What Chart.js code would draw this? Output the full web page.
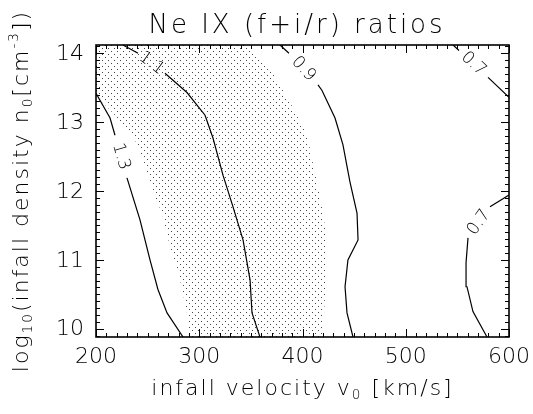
<!DOCTYPE html>
<html>
<head>
<meta charset="utf-8">
<script src="https://cdn.jsdelivr.net/npm/chart.js@4.4.1/dist/chart.umd.min.js"></script>
<style>
  html, body { margin: 0; padding: 0; background: #fff; }
  canvas { display: block; }
</style>
</head>
<body>
<canvas id="chart" width="533" height="414"></canvas>
<script>
const titleText = 'Ne IX (f+i/r) ratios';
const xTicks = [200, 300, 400, 500, 600];
const yTicks = [10, 11, 12, 13, 14];
const xRange = [200, 600];
const yRange = [9.88, 14.12];
const xMinorStep = 10;
const yMinorStep = 0.1;

// contour lines (velocity, log density); null = gap where the level label sits
const levels = ['1.3', '1.1', '0.9', '0.7', '0.7'];
const c13v = [200, 213.6, 218.4, null, 230, 242.6, 252.3, 260, 268.8, 284.3];
const c13n = [13.42, 13.06, 12.81, null, 12.19, 11.58, 11.0, 10.57, 10.23, 9.88];
const c11v = [226.1, 240.7, null, 266.8, 288.1, 305.6, 313.3, 323, 332.7, 342.4, 349.2, 351.1, 358.8];
const c11n = [14.12, 14.0, null, 13.71, 13.43, 13.10, 12.77, 12.23, 11.77, 11.29, 10.71, 10.23, 9.88];
const c09v = [378.2, 386.9, null, 415, 418.9, 431.5, 439.2, 446, 452.8, 453.8, 444, 441.2, 443.1, 448.9];
const c09n = [14.12, 14.0, null, 13.54, 13.46, 13.06, 12.67, 12.13, 11.68, 11.29, 11.0, 10.61, 10.23, 9.88];
const c07av = [545.8, 551.6, null, 579.7, 600];
const c07an = [14.12, 14.04, null, 13.65, 13.36];
const c07bv = [578.7, 565.1, 559.3, 558.4, 560.3, null, 581.6, 600];
const c07bn = [9.88, 10.25, 10.61, 10.96, 11.32, null, 11.77, 11.94];

// stippled band: right edge top->bottom, then left edge bottom->top
const bandV = [200, 344.3, 368.5, 387.9, 404.4, 414, 419.9, 423.7, 422.8, 420.8, 419.9,
               291, 288.1, 281.4, 271.7, 263.9, 254.2, 247.5, 237.8, 218.4, 200];
const bandN = [14.12, 14.12, 13.78, 13.29, 12.81, 12.13, 11.68, 11.29, 10.71, 10.20, 9.88,
               9.88, 10.23, 10.71, 11.19, 11.68, 12.01, 12.38, 12.74, 13.10, 13.39];

const FONT = '"DejaVu Sans", "Liberation Sans", sans-serif';
const WEIGHT = '200';

const contours = [[c13v, c13n], [c11v, c11n], [c09v, c09n], [c07av, c07an], [c07bv, c07bn]];
const toPts = (vs, ns) => vs.map((v, i) => v === null ? { x: NaN, y: null } : { x: v, y: ns[i] });

function stipple() {
  const c = document.createElement('canvas');
  c.width = 6; c.height = 6;
  const g = c.getContext('2d');
  g.fillStyle = '#444';
  g.fillRect(0, 0, 1, 1);
  g.fillRect(3, 3, 1, 1);
  return g.createPattern(c, 'repeat');
}

function drawRich(ctx, parts, cx, cy, size, spacing, rot) {
  ctx.save();
  ctx.translate(cx, cy);
  ctx.rotate(rot || 0);
  ctx.fillStyle = '#000';
  ctx.textBaseline = 'alphabetic';
  ctx.textAlign = 'left';
  ctx.letterSpacing = spacing + 'px';
  const items = parts.map(p => {
    const s = (p.sub || p.sup) ? size * 0.62 : size;
    ctx.font = `${WEIGHT} ${s}px ${FONT}`;
    return { t: p.t, sub: p.sub, sup: p.sup, s, w: ctx.measureText(p.t).width };
  });
  let x = -items.reduce((a, p) => a + p.w, 0) / 2;
  const base = size * 0.36;
  items.forEach(p => {
    ctx.font = `${WEIGHT} ${p.s}px ${FONT}`;
    let dy = base;
    if (p.sub) dy += size * 0.2;
    if (p.sup) dy -= size * 0.45;
    ctx.fillText(p.t, x, dy);
    x += p.w;
  });
  ctx.restore();
}

function steps(lo, hi, step) {
  const out = [];
  for (let k = Math.ceil(lo / step - 1e-9); k * step <= hi + 1e-9; k++) out.push(+(k * step).toFixed(6));
  return out;
}

const frame = {
  id: 'frame',
  afterDatasetsDraw(chart) {
    const { ctx, scales: { x, y } } = chart;
    ctx.save();
    ctx.fillStyle = '#000';
    ctx.font = `${WEIGHT} 17px ${FONT}`;
    ctx.textAlign = 'center';
    ctx.textBaseline = 'middle';
    contours.forEach(([vs, ns], k) => {
      const i = vs.indexOf(null);
      const ax = x.getPixelForValue(vs[i - 1]), ay = y.getPixelForValue(ns[i - 1]);
      const bx = x.getPixelForValue(vs[i + 1]), by = y.getPixelForValue(ns[i + 1]);
      ctx.save();
      ctx.translate((ax + bx) / 2, (ay + by) / 2);
      ctx.rotate(Math.atan2(by - ay, bx - ax));
      ctx.fillText(levels[k], 0, 0);
      ctx.restore();
    });
    ctx.restore();
  },
  afterDraw(chart) {
    const { ctx, chartArea: a, scales: { x, y } } = chart;
    ctx.save();
    ctx.strokeStyle = '#000';
    ctx.lineWidth = 1;
    ctx.beginPath();
    steps(xRange[0], xRange[1], xMinorStep).forEach(v => {
      const px = Math.round(x.getPixelForValue(v)) + 0.5;
      const len = xTicks.includes(v) ? 8 : 4;
      ctx.moveTo(px, a.bottom); ctx.lineTo(px, a.bottom - len);
      ctx.moveTo(px, a.top); ctx.lineTo(px, a.top + len);
    });
    steps(yRange[0], yRange[1], yMinorStep).forEach(v => {
      const py = Math.round(y.getPixelForValue(v)) + 0.5;
      const len = yTicks.includes(v) ? 8 : 4;
      ctx.moveTo(a.left, py); ctx.lineTo(a.left + len, py);
      ctx.moveTo(a.right, py); ctx.lineTo(a.right - len, py);
    });
    ctx.stroke();
    ctx.lineWidth = 1.6;
    ctx.strokeRect(a.left, a.top, a.right - a.left, a.bottom - a.top);

    ctx.fillStyle = '#000';
    ctx.font = `${WEIGHT} 22px ${FONT}`;
    ctx.textBaseline = 'middle';
    ctx.textAlign = 'center';
    xTicks.forEach(v => ctx.fillText(String(v), x.getPixelForValue(v), a.bottom + 20));
    ctx.textAlign = 'right';
    yTicks.forEach(v => ctx.fillText(String(v), a.left - 12, y.getPixelForValue(v) + 1));
    ctx.restore();

    drawRich(ctx, [{ t: titleText }], 297, 24, 26, 3, 0);
    drawRich(ctx, [{ t: 'infall velocity v' }, { t: '0', sub: true }, { t: ' [km/s]' }],
      (a.left + a.right) / 2, 387, 22, 2, 0);
    drawRich(ctx, [{ t: 'log' }, { t: '10', sub: true }, { t: '(infall density n' }, { t: '0', sub: true },
      { t: '[cm' }, { t: '-3', sup: true }, { t: '])' }], 20, (a.top + a.bottom) / 2, 22, 2, -Math.PI / 2);
  }
};

const lineSets = contours.map(([vs, ns]) => ({
  data: toPts(vs, ns),
  showLine: true,
  borderColor: '#000',
  borderWidth: 1.2,
  pointRadius: 0,
  fill: false,
  spanGaps: false
}));

const bandSet = {
  data: toPts(bandV, bandN),
  showLine: true,
  borderWidth: 0,
  borderColor: 'rgba(0,0,0,0)',
  backgroundColor: stipple(),
  pointRadius: 0,
  fill: 'shape'
};

new Chart(document.getElementById('chart'), {
  type: 'scatter',
  data: { datasets: [...lineSets, bandSet] },
  options: {
    responsive: false,
    animation: false,
    layout: { padding: { left: 96, right: 24, top: 45, bottom: 77 } },
    plugins: { legend: { display: false }, tooltip: { enabled: false }, title: { display: false } },
    scales: {
      x: {
        type: 'linear', min: xRange[0], max: xRange[1],
        afterFit: s => { s.height = 0; },
        grid: { display: false, drawTicks: false },
        border: { display: false },
        ticks: { display: false }
      },
      y: {
        type: 'linear', min: yRange[0], max: yRange[1],
        afterFit: s => { s.width = 0; },
        grid: { display: false, drawTicks: false },
        border: { display: false },
        ticks: { display: false }
      }
    }
  },
  plugins: [frame]
});
</script>
</body>
</html>
